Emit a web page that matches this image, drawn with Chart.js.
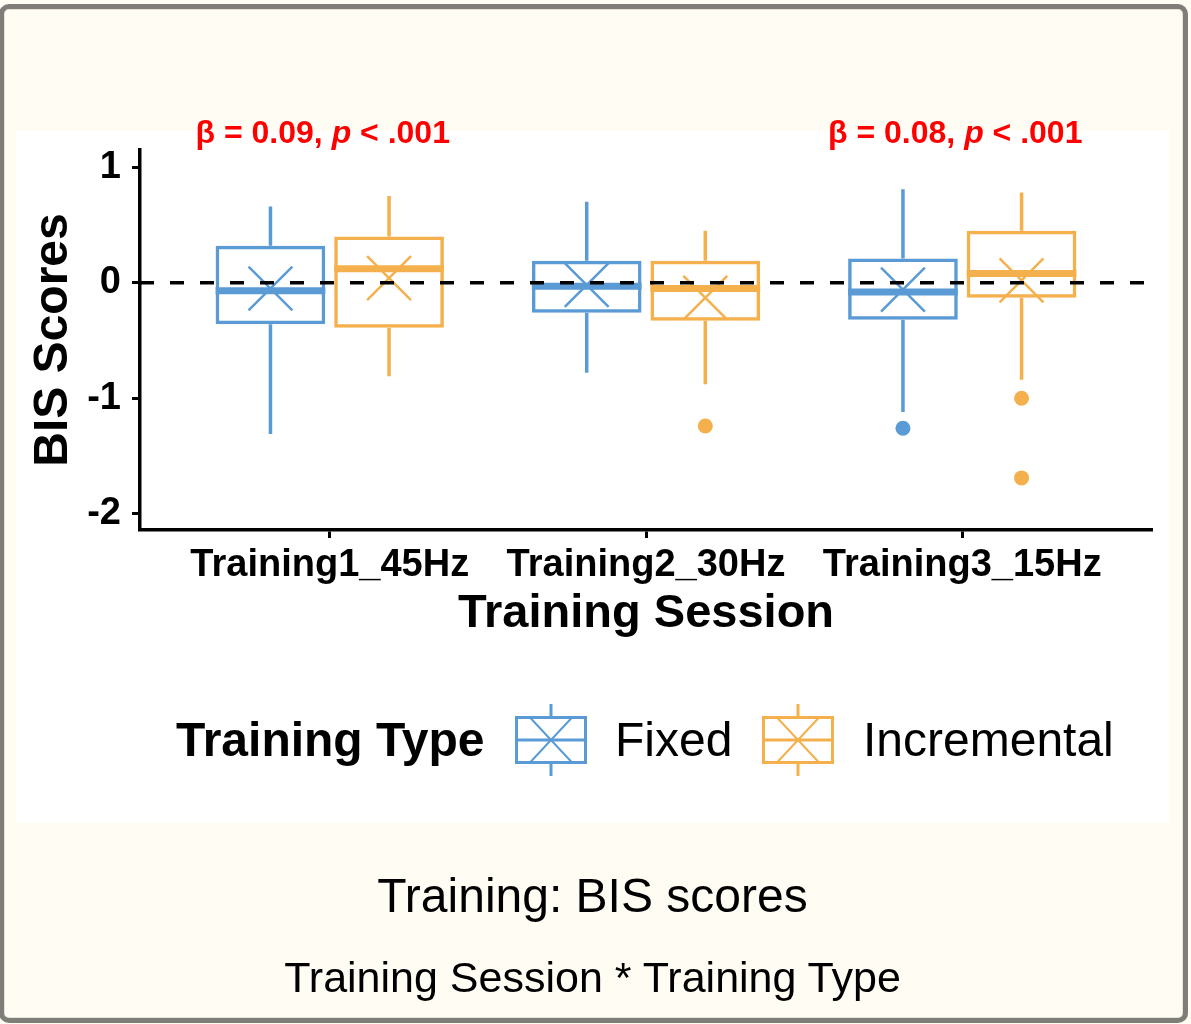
<!DOCTYPE html>
<html>
<head>
<meta charset="utf-8">
<title>Training: BIS scores</title>
<script src="https://cdn.jsdelivr.net/npm/chart.js@4/dist/chart.umd.min.js"></script>
<style>
  html, body { margin: 0; padding: 0; width: 1191px; height: 1024px; overflow: hidden; background: #fffcf4; font-family: "Liberation Sans", Arial, Helvetica, sans-serif; }
  #frame { position: absolute; left: -1px; top: 4px; width: 1189px; height: 1019px; box-sizing: border-box; border: 5px solid #7e7d78; border-radius: 10px; box-shadow: inset 0 0 0 1px #e6e3da; }
  #panel { position: absolute; left: 16px; top: 131px; width: 1153px; height: 692px; background: #ffffff; }
  #chart { position: absolute; left: 0; top: 0; }
  .cap { position: absolute; left: 0; width: 1185px; text-align: center; color: #000; white-space: nowrap; }
  #cap1 { top: 872px; font-size: 48px; line-height: 48px; }
  #cap2 { top: 956px; font-size: 43px; line-height: 43px; }
</style>
</head>
<body>
<div id="frame"></div>
<div id="panel"></div>
<canvas id="chart" width="1191" height="1024"></canvas>
<div class="cap" id="cap1">Training: BIS scores</div>
<div class="cap" id="cap2">Training Session * Training Type</div>
<script>
// ---- data -------------------------------------------------------------
const sessions = ['Training1_45Hz', 'Training2_30Hz', 'Training3_15Hz'];
const trainingTypes = ['Fixed', 'Incremental'];
const yTicks = [-2, -1, 0, 1];

// Fixed training: box-plot summaries per session
const fixedLowerWhisker = [-1.31, -0.78, -1.12];
const fixedQ1           = [-0.36, -0.26, -0.32];
const fixedMedian       = [-0.07, -0.03, -0.08];
const fixedQ3           = [ 0.32,  0.19,  0.21];
const fixedUpperWhisker = [ 0.66,  0.70,  0.81];
const fixedMean         = [-0.05, -0.02, -0.06];
const fixedOutliers     = [[], [], [-1.26]];

// Incremental training: box-plot summaries per session
const incrLowerWhisker = [-0.81, -0.88, -0.84];
const incrQ1           = [-0.39, -0.33, -0.13];
const incrMedian       = [ 0.12, -0.05,  0.08];
const incrQ3           = [ 0.40,  0.19,  0.45];
const incrUpperWhisker = [ 0.75,  0.45,  0.78];
const incrMean         = [ 0.04, -0.13,  0.02];
const incrOutliers     = [[], [-1.24], [-1.00, -1.69]];

// model effects annotated above sessions
const effectSession = [0, 2];
const effectBeta = ['0.09', '0.08'];
const effectP = ['< .001', '< .001'];

// ---- styling ----------------------------------------------------------
const BLUE = '#5b9bd5';
const ORANGE = '#f4b04c';
const FONT = '"Liberation Sans", Arial, Helvetica, sans-serif';
const DODGE_WIDTH = 0.75;
const dodge = DODGE_WIDTH / 4;          // centre of each half of a session slot
const xFor = (i, g) => i + 1 + (g === 0 ? -dodge : dodge);

function boxDataset(label, color, q1, q3, lo, hi, med) {
  return {
    type: 'bar',
    label,
    data: sessions.map((s, i) => ({ x: i + 1, y: [q1[i], q3[i]] })),
    whiskerLow: lo,
    whiskerHigh: hi,
    medians: med,
    backgroundColor: 'rgba(0,0,0,0)',
    borderColor: color,
    borderWidth: 3.5,
    borderSkipped: false,
    inflateAmount: 0,
    categoryPercentage: DODGE_WIDTH,
    barPercentage: 0.925,
    order: 2
  };
}

function meanDataset(label, color, means, g) {
  return {
    type: 'scatter',
    label,
    data: means.map((m, i) => ({ x: xFor(i, g), y: m })),
    pointStyle: 'crossRot',
    radius: 31,
    borderColor: color,
    backgroundColor: 'rgba(0,0,0,0)',
    borderWidth: 2.5,
    order: 1
  };
}

function outlierDataset(label, color, outliers, g) {
  const pts = [];
  outliers.forEach((list, i) => list.forEach(v => pts.push({ x: xFor(i, g), y: v })));
  return {
    type: 'scatter',
    label,
    data: pts,
    pointStyle: 'circle',
    radius: 7.5,
    borderWidth: 0,
    backgroundColor: color,
    order: 1
  };
}

// whiskers and median bars drawn right after each box
const boxParts = {
  id: 'boxParts',
  afterDatasetDraw(chart, args) {
    const ds = chart.data.datasets[args.index];
    if (!ds.whiskerLow) return;
    const y = chart.scales.y;
    const ctx = chart.ctx;
    ctx.save();
    ctx.strokeStyle = ds.borderColor;
    ctx.lineCap = 'butt';
    args.meta.data.forEach((bar, i) => {
      const top = Math.min(bar.y, bar.base);
      const bottom = Math.max(bar.y, bar.base);
      const left = bar.x - bar.width / 2;
      const right = bar.x + bar.width / 2;
      ctx.lineWidth = 3.5;
      ctx.beginPath();
      ctx.moveTo(bar.x, y.getPixelForValue(ds.whiskerHigh[i]));
      ctx.lineTo(bar.x, top);
      ctx.moveTo(bar.x, bottom);
      ctx.lineTo(bar.x, y.getPixelForValue(ds.whiskerLow[i]));
      ctx.stroke();
      const my = y.getPixelForValue(ds.medians[i]);
      ctx.lineWidth = 7;
      ctx.beginPath();
      ctx.moveTo(left, my);
      ctx.lineTo(right, my);
      ctx.stroke();
    });
    ctx.restore();
  }
};

// dashed reference line at zero
const zeroLine = {
  id: 'zeroLine',
  afterDatasetsDraw(chart) {
    const { ctx, chartArea, scales: { y } } = chart;
    const py = y.getPixelForValue(0);
    ctx.save();
    ctx.strokeStyle = '#000';
    ctx.lineWidth = 3.5;
    ctx.setLineDash([14, 16]);
    ctx.beginPath();
    ctx.moveTo(chartArea.left, py);
    ctx.lineTo(chartArea.right, py);
    ctx.stroke();
    ctx.restore();
  }
};

// red effect labels above the sessions
const effectLabels = {
  id: 'effectLabels',
  afterDraw(chart) {
    const { ctx, chartArea, scales: { x } } = chart;
    ctx.save();
    ctx.fillStyle = '#ff0000';
    ctx.textBaseline = 'alphabetic';
    ctx.textAlign = 'left';
    effectSession.forEach((s, k) => {
      const parts = [
        { f: 'bold', t: '\u03b2 = ' + effectBeta[k] + ', ' },
        { f: 'italic bold', t: 'p' },
        { f: 'bold', t: ' ' + effectP[k] }
      ];
      let total = 0;
      parts.forEach(p => { ctx.font = p.f + ' 32px ' + FONT; p.w = ctx.measureText(p.t).width; total += p.w; });
      let cx = x.getPixelForValue(s + 1) - 7 - total / 2;
      parts.forEach(p => { ctx.font = p.f + ' 32px ' + FONT; ctx.fillText(p.t, cx, chartArea.top - 7); cx += p.w; });
    });
    ctx.restore();
  }
};

// legend row: title plus box-plot keys
const boxLegend = {
  id: 'boxLegend',
  afterDraw(chart) {
    const ctx = chart.ctx;
    const base = 756;
    const key = (x0, color) => {
      const top = 716, w = 72, h = 48, cx = x0 + w / 2;
      ctx.strokeStyle = color;
      ctx.lineWidth = 3;
      ctx.strokeRect(x0 + 1.5, top + 1.5, w - 3, h - 3);
      ctx.beginPath();
      ctx.moveTo(cx, top - 12); ctx.lineTo(cx, top + 1.5);
      ctx.moveTo(cx, top + h - 1.5); ctx.lineTo(cx, top + h + 12);
      ctx.moveTo(x0, top + h / 2); ctx.lineTo(x0 + w, top + h / 2);
      ctx.stroke();
      ctx.lineWidth = 2;
      ctx.beginPath();
      ctx.moveTo(cx - 21, top + 1.5); ctx.lineTo(cx + 21, top + h - 1.5);
      ctx.moveTo(cx + 21, top + 1.5); ctx.lineTo(cx - 21, top + h - 1.5);
      ctx.stroke();
    };
    ctx.save();
    ctx.fillStyle = '#000';
    ctx.textBaseline = 'alphabetic';
    ctx.textAlign = 'left';
    ctx.font = 'bold 48px ' + FONT;
    ctx.fillText('Training Type', 176, base);
    key(515, BLUE);
    ctx.font = '48px ' + FONT;
    ctx.fillText(trainingTypes[0], 615, base);
    key(762, ORANGE);
    ctx.fillText(trainingTypes[1], 863, base);
    ctx.restore();
  }
};

new Chart(document.getElementById('chart'), {
  type: 'bar',
  data: {
    datasets: [
      boxDataset(trainingTypes[0], BLUE, fixedQ1, fixedQ3, fixedLowerWhisker, fixedUpperWhisker, fixedMedian),
      boxDataset(trainingTypes[1], ORANGE, incrQ1, incrQ3, incrLowerWhisker, incrUpperWhisker, incrMedian),
      meanDataset(trainingTypes[0] + ' mean', BLUE, fixedMean, 0),
      meanDataset(trainingTypes[1] + ' mean', ORANGE, incrMean, 1),
      outlierDataset(trainingTypes[0] + ' outliers', BLUE, fixedOutliers, 0),
      outlierDataset(trainingTypes[1] + ' outliers', ORANGE, incrOutliers, 1)
    ]
  },
  options: {
    responsive: false,
    animation: false,
    events: [],
    layout: { padding: { left: 30, right: 39, top: 150, bottom: 369 } },
    plugins: { legend: { display: false }, tooltip: { enabled: false } },
    scales: {
      x: {
        type: 'linear',
        min: 0.4,
        max: 3.6,
        offset: false,
        grid: { offset: false, drawOnChartArea: false, drawTicks: true, tickLength: 8, tickWidth: 3, color: '#000' },
        border: { display: true, color: '#000', width: 3.5 },
        afterBuildTicks: s => { s.ticks = sessions.map((_, i) => ({ value: i + 1 })); },
        afterFit: s => { s.height = 125; },
        ticks: {
          color: '#000',
          padding: 5,
          maxRotation: 0,
          autoSkip: false,
          font: { family: FONT, size: 38, weight: 'bold' },
          callback: (v, i) => sessions[i]
        },
        title: {
          display: true,
          text: 'Training Session',
          color: '#000',
          padding: { top: 0, bottom: 17 },
          font: { family: FONT, size: 47, weight: 'bold', lineHeight: 1 }
        }
      },
      y: {
        min: -2.141,
        max: 1.149,
        grid: { drawOnChartArea: false, drawTicks: true, tickLength: 8, tickWidth: 3, color: '#000' },
        border: { display: true, color: '#000', width: 3.5 },
        afterBuildTicks: s => { s.ticks = yTicks.map(v => ({ value: v })); },
        afterFit: s => { s.width = 110; },
        ticks: {
          color: '#000',
          padding: 11,
          font: { family: FONT, size: 38, weight: 'bold' },
          callback: v => String(v)
        },
        title: {
          display: true,
          text: 'BIS Scores',
          color: '#000',
          padding: { top: 0, bottom: 0 },
          font: { family: FONT, size: 48, weight: 'bold', lineHeight: 1 }
        }
      }
    }
  },
  plugins: [boxParts, zeroLine, effectLabels, boxLegend]
});
</script>
</body>
</html>
